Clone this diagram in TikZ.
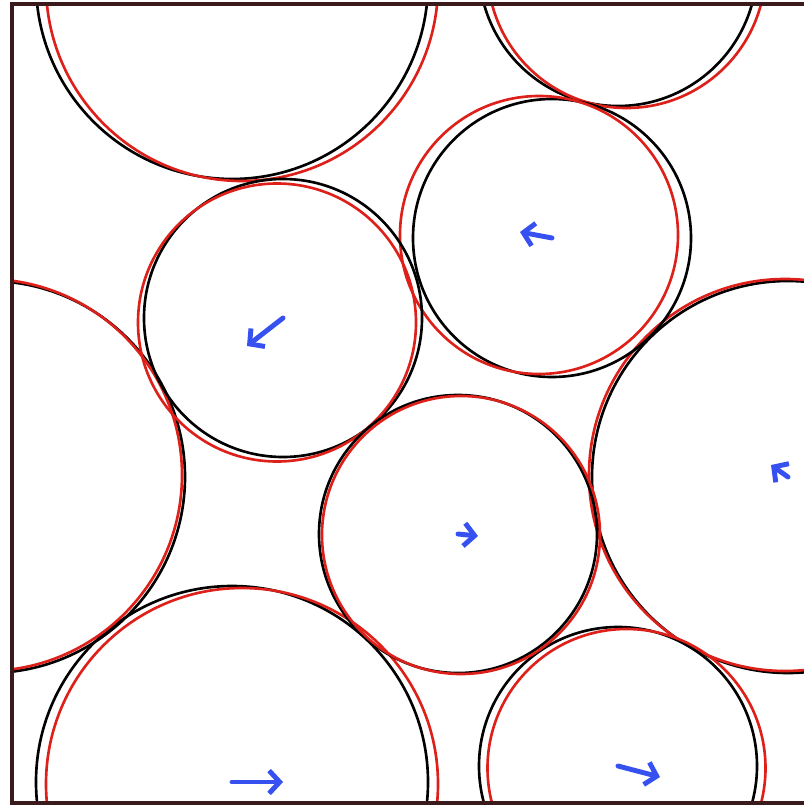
\documentclass[tikz,border=0pt]{standalone}
\usetikzlibrary{arrows.meta}
\tikzset{>=latex}
\definecolor{newcol}{RGB}{222,32,26}
\definecolor{dispcol}{RGB}{55,80,240}
\definecolor{boxcol}{RGB}{58,26,26}
\tikzstyle{oldring}=[black,line width=0.75pt]
\tikzstyle{newring}=[newcol,line width=0.75pt]
\tikzstyle{dvec}=[-{Straight Barb[length=3pt,width=6.5pt]},dispcol,line width=1.4pt,line cap=round]

\begin{document}
\begin{tikzpicture}[x=0.01cm,y=-0.01cm]
  \def\Rs{139}
  \def\Rb{196}
  \def\L{799}
  \useasboundingbox (0,0) rectangle (804,806);
  \clip (0,0) rectangle (804,806);
  \coordinate (SW) at (12,803);
  \coordinate (NE) at (811,4);

  % periodic cell
  \begin{scope}
    \clip (SW) rectangle (NE);
    % x / y / radius / red shift / arrow
    \foreach \x/\y/\r/\dx/\dy/\ax/\ay in {232/782/\Rb/10/2/51/0,
                                          788/477/\Rb/-3/-2/-17/-12,
                                          618/766/\Rs/8.5/2/42/11,
                                          552/238/\Rs/-13/-3/-32/-6,
                                          283/318/\Rs/-6/4.5/-36/28,
                                          458/534/\Rs/3/1/20/2}{
      \foreach \i in {-1,0,1}{
        \foreach \j in {-1,0,1}{
          \draw[oldring] (\x+\i*\L,\y+\j*\L) circle (\r);
          \draw[newring] (\x+\i*\L+\dx,\y+\j*\L+\dy) circle (\r);
        }
      }
      \draw[dvec] (\x,\y) -- ++(\ax,\ay);
    }
  \end{scope}

  \draw[boxcol,line width=0.9pt] (SW) rectangle (NE);
\end{tikzpicture}
\end{document}
